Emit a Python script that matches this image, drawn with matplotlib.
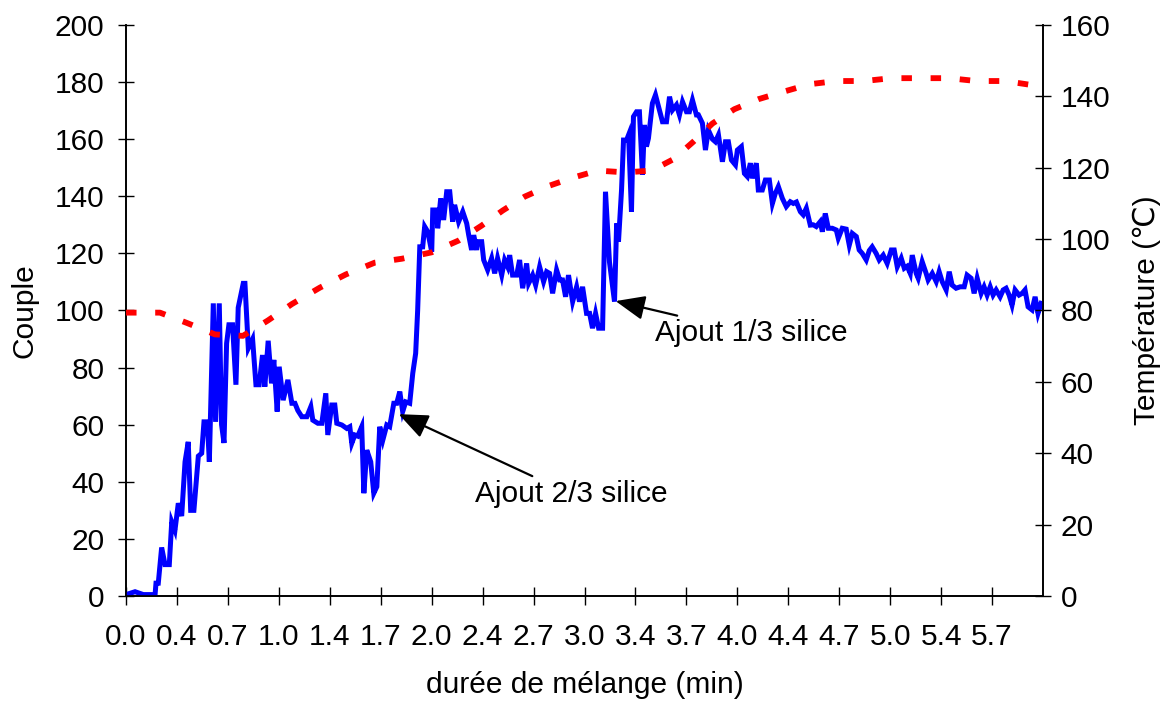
import matplotlib
matplotlib.use("Agg")
import matplotlib.pyplot as plt

plt.rcParams['font.family'] = ['Liberation Sans', 'DejaVu Sans']

# ---------------- data ----------------
tick_labels = ["0.0", "0.4", "0.7", "1.0", "1.4", "1.7", "2.0", "2.4", "2.7",
               "3.0", "3.4", "3.7", "4.0", "4.4", "4.7", "5.0", "5.4", "5.7"]

torque_time = [
    0.000, 0.059, 0.113, 0.190, 0.196, 0.211, 0.233, 0.255, 0.283, 0.299,
    0.320, 0.342, 0.364, 0.386, 0.407, 0.423, 0.444, 0.473, 0.495, 0.510,
    0.532, 0.545, 0.571, 0.586, 0.610, 0.625, 0.641, 0.658, 0.673, 0.697,
    0.719, 0.734, 0.767, 0.778, 0.800, 0.828, 0.850, 0.871, 0.893, 0.908,
    0.930, 0.952, 0.967, 0.989, 1.002, 1.028, 1.059, 1.085, 1.105, 1.124,
    1.150, 1.183, 1.209, 1.222, 1.255, 1.281, 1.307, 1.320, 1.346, 1.366,
    1.379, 1.412, 1.444, 1.464, 1.477, 1.497, 1.516, 1.542, 1.556, 1.575,
    1.601, 1.621, 1.641, 1.660, 1.680, 1.706, 1.725, 1.752, 1.771, 1.791,
    1.810, 1.830, 1.856, 1.876, 1.895, 1.908, 1.922, 1.941, 1.954, 1.974,
    2.000, 2.007, 2.033, 2.039, 2.059, 2.078, 2.098, 2.118, 2.137, 2.150,
    2.176, 2.203, 2.229, 2.242, 2.261, 2.275, 2.294, 2.301, 2.327, 2.340,
    2.366, 2.392, 2.412, 2.431, 2.458, 2.477, 2.497, 2.510, 2.529, 2.556,
    2.575, 2.595, 2.621, 2.634, 2.660, 2.680, 2.706, 2.732, 2.752, 2.771,
    2.791, 2.817, 2.837, 2.856, 2.876, 2.895, 2.922, 2.948, 2.967, 2.987,
    3.013, 3.033, 3.052, 3.072, 3.092, 3.118, 3.137, 3.163, 3.196, 3.210,
    3.222, 3.242, 3.255, 3.275, 3.288, 3.307, 3.320, 3.340, 3.359, 3.379,
    3.392, 3.405, 3.418, 3.444, 3.464, 3.484, 3.510, 3.536, 3.556, 3.575,
    3.601, 3.621, 3.641, 3.667, 3.686, 3.706, 3.732, 3.745, 3.771, 3.791,
    3.810, 3.837, 3.856, 3.876, 3.902, 3.922, 3.941, 3.961, 3.987, 4.000,
    4.026, 4.046, 4.065, 4.085, 4.098, 4.124, 4.137, 4.163, 4.183, 4.209,
    4.229, 4.248, 4.268, 4.294, 4.320, 4.346, 4.366, 4.386, 4.412, 4.431,
    4.451, 4.477, 4.497, 4.516, 4.542, 4.556, 4.575, 4.595, 4.621, 4.647,
    4.660, 4.686, 4.712, 4.732, 4.752, 4.778, 4.797, 4.817, 4.843, 4.863,
    4.882, 4.908, 4.928, 4.954, 4.980, 5.007, 5.026, 5.046, 5.072, 5.092,
    5.111, 5.131, 5.144, 5.170, 5.183, 5.209, 5.235, 5.248, 5.275, 5.301,
    5.320, 5.340, 5.366, 5.386, 5.405, 5.431, 5.458, 5.484, 5.503, 5.529,
    5.549, 5.569, 5.595, 5.614, 5.634, 5.654, 5.673, 5.693, 5.719, 5.739,
    5.758, 5.778, 5.797, 5.817, 5.843, 5.863, 5.882, 5.902, 5.928, 5.948,
    5.967, 5.987,
]

torque = [
    0.5, 1.5, 0.5, 0.5, 4.5, 4.5, 17.0, 11.0, 11.0, 26.0,
    23.0, 32.5, 28.0, 47.0, 54.0, 30.0, 30.0, 49.0, 50.0, 61.0,
    61.0, 47.0, 102.5, 61.0, 102.5, 60.0, 53.6, 88.5, 95.0, 95.0,
    74.0, 101.0, 109.5, 109.5, 86.8, 90.0, 74.0, 74.0, 84.4, 73.3,
    89.4, 74.5, 82.7, 64.6, 80.3, 68.6, 75.7, 67.5, 67.5, 65.0,
    62.8, 62.8, 66.3, 61.6, 60.5, 60.5, 71.0, 56.4, 66.9, 66.9,
    60.5, 59.9, 58.7, 59.3, 53.5, 56.4, 56.0, 59.3, 36.0, 51.1,
    47.0, 36.0, 38.3, 59.3, 54.6, 59.9, 59.3, 67.5, 67.5, 71.6,
    64.6, 68.0, 67.5, 78.0, 85.0, 100.0, 122.3, 122.3, 129.4, 127.6,
    120.6, 135.2, 135.2, 128.8, 139.3, 131.7, 141.6, 141.6, 131.1, 137.0,
    131.1, 134.6, 130.5, 126.4, 121.2, 126.4, 121.2, 124.1, 124.1, 117.7,
    114.2, 118.3, 113.0, 118.3, 112.4, 117.7, 115.3, 119.4, 112.4, 112.4,
    117.7, 107.8, 116.5, 109.5, 112.4, 108.9, 115.3, 110.1, 113.6, 113.0,
    106.0, 114.2, 110.7, 110.7, 104.8, 112.4, 103.1, 108.3, 103.1, 108.3,
    99.0, 99.0, 93.8, 99.0, 93.8, 93.8, 141.6, 117.0, 103.1, 130.5,
    124.1, 142.2, 159.7, 159.7, 161.5, 134.6, 167.9, 169.6, 169.6, 147.5,
    165.0, 157.4, 160.3, 172.6, 175.5, 171.4, 166.1, 166.1, 174.9, 170.2,
    172.0, 168.5, 173.1, 169.6, 169.6, 173.7, 168.5, 168.5, 165.6, 156.2,
    163.2, 160.0, 159.1, 161.5, 152.1, 159.1, 159.1, 152.7, 151.0, 156.2,
    157.4, 148.0, 146.9, 151.6, 146.3, 151.6, 142.2, 142.2, 145.7, 145.7,
    137.5, 141.0, 143.4, 139.3, 136.4, 138.1, 137.5, 138.0, 134.6, 133.5,
    135.8, 129.9, 130.0, 129.4, 131.1, 127.6, 134.0, 128.8, 128.8, 128.2,
    125.3, 128.8, 128.5, 122.9, 127.0, 125.9, 121.2, 120.0, 117.7, 121.0,
    122.3, 120.0, 117.7, 119.4, 116.5, 121.2, 121.2, 115.3, 118.3, 114.8,
    115.5, 113.0, 119.4, 113.0, 111.3, 117.1, 113.0, 110.7, 113.0, 110.1,
    113.6, 110.1, 107.2, 113.6, 108.9, 107.8, 108.3, 108.3, 112.4, 111.3,
    106.0, 111.3, 106.0, 108.3, 105.4, 108.3, 105.4, 107.2, 104.8, 107.2,
    107.8, 105.4, 101.9, 107.2, 105.4, 106.0, 107.2, 101.3, 100.2, 104.8,
    99.0, 102.5,
]

temp_time = [
    0.000, 0.039, 0.222, 0.399, 0.582, 0.765, 0.928, 1.085, 1.268, 1.438,
    1.627, 1.804, 2.000, 2.176, 2.327, 2.464, 2.608, 2.765, 2.922, 3.085,
    3.268, 3.438, 3.582, 3.712, 3.837, 3.980, 4.137, 4.301, 4.471, 4.647,
    4.830, 5.007, 5.196, 5.386, 5.562, 5.752, 5.922, 5.990,
]
temperature = [
    79.4, 79.4, 79.4, 76.5, 73.3, 72.9, 77.2, 81.8, 86.4, 90.1,
    93.4, 94.5, 96.3, 99.6, 103.8, 108.0, 111.9, 114.9, 117.2, 119.2,
    118.7, 119.2, 122.4, 127.3, 132.4, 136.4, 139.2, 141.3, 143.4, 144.3,
    144.3, 145.1, 145.1, 145.1, 144.3, 144.3, 143.2, 142.8,
]

FS = 21.5

# ---------------- figure ----------------
fig = plt.figure(figsize=(11.67, 7.04), dpi=100)
ax = fig.add_axes([0.108, 0.1534, 0.7858, 0.8111])
ax2 = ax.twinx()

ax.plot(torque_time, torque, color="#0000FF", lw=3.6, solid_joinstyle="miter", zorder=3)
ax2.plot(temp_time, temperature, color="#FF0000", lw=4.2,
         linestyle=(0, (1.8, 3.2)), dash_capstyle="butt", zorder=4)

ax.set_xlim(0, 6.0)
ax.set_ylim(0, 200)
ax2.set_ylim(0, 160)

ax.set_xticks([k / 3 for k in range(len(tick_labels))])
ax.set_xticklabels(tick_labels)
ax.set_yticks(range(0, 201, 20))
ax2.set_yticks(range(0, 161, 20))

for a in (ax, ax2):
    a.spines["top"].set_visible(False)
    for s in a.spines.values():
        s.set_linewidth(1.2)

ax.tick_params(axis="x", direction="inout", length=13, width=1.0, labelsize=FS, pad=13)
ax.tick_params(axis="y", direction="inout", length=11, width=1.0, labelsize=FS, pad=10)
ax2.tick_params(axis="y", direction="inout", length=11, width=1.0, labelsize=FS, pad=7)

ax.set_xlabel("durée de mélange (min)", fontsize=FS, labelpad=14)
ax.set_ylabel("Couple", fontsize=FS, labelpad=12)
ax2.set_ylabel("Température (℃)", fontsize=FS, labelpad=16)

arrow = dict(arrowstyle="-|>,head_length=0.6,head_width=0.25", mutation_scale=30,
             lw=1.6, color="black", shrinkA=2, shrinkB=0)
ax.annotate("Ajout 1/3 silice", xy=(3.203, 103.3), xytext=(3.458, 92.1),
            ha="left", va="center", fontsize=FS, arrowprops=arrow, zorder=6)
ax.annotate("Ajout 2/3 silice", xy=(1.784, 63.7), xytext=(2.281, 35.7),
            ha="left", va="center", fontsize=FS, arrowprops=arrow, zorder=6)

fig.savefig("out.png", dpi=100)
